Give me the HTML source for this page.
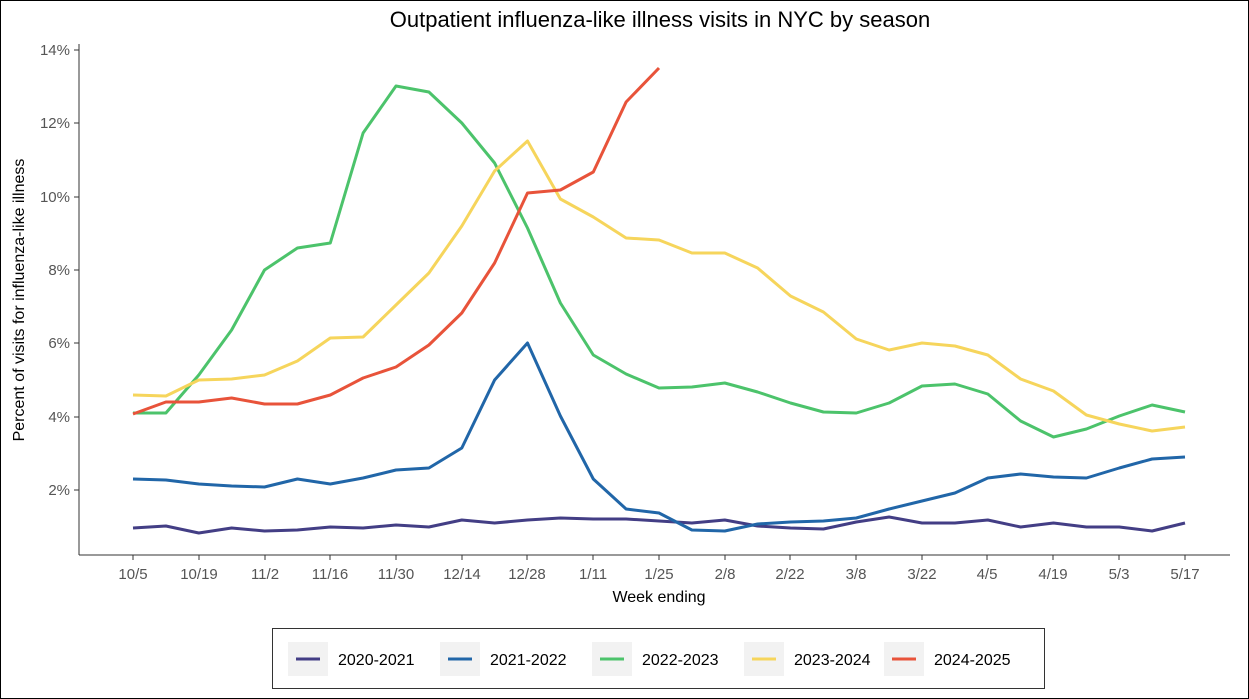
<!DOCTYPE html>
<html><head><style>
body{margin:0;background:#fff;}
svg{display:block;font-family:"Liberation Sans",sans-serif;}
</style></head><body>
<svg width="1249" height="699" viewBox="0 0 1249 699">
<rect x="0.5" y="0.5" width="1248" height="698" fill="#fff" stroke="#000"/>
<text x="660" y="27" font-size="22" text-anchor="middle" fill="#000">Outpatient influenza-like illness visits in NYC by season</text>
<line x1="79" y1="44" x2="79" y2="555" stroke="#333" stroke-width="1"/>
<line x1="79" y1="555" x2="1230" y2="555" stroke="#333" stroke-width="1"/>
<g font-size="15" fill="#555" text-anchor="end">
<text x="70" y="55">14%</text><line x1="74" y1="50" x2="79" y2="50" stroke="#333"/>
<text x="70" y="128">12%</text><line x1="74" y1="123" x2="79" y2="123" stroke="#333"/>
<text x="70" y="202">10%</text><line x1="74" y1="197" x2="79" y2="197" stroke="#333"/>
<text x="70" y="275">8%</text><line x1="74" y1="270" x2="79" y2="270" stroke="#333"/>
<text x="70" y="348">6%</text><line x1="74" y1="343" x2="79" y2="343" stroke="#333"/>
<text x="70" y="422">4%</text><line x1="74" y1="417" x2="79" y2="417" stroke="#333"/>
<text x="70" y="495">2%</text><line x1="74" y1="490" x2="79" y2="490" stroke="#333"/>
</g>
<g font-size="15" fill="#555" text-anchor="middle" stroke-width="1">
<text x="133" y="579">10/5</text><text x="199" y="579">10/19</text><text x="265" y="579">11/2</text><text x="330" y="579">11/16</text><text x="396" y="579">11/30</text><text x="462" y="579">12/14</text><text x="527" y="579">12/28</text><text x="593" y="579">1/11</text><text x="659" y="579">1/25</text><text x="725" y="579">2/8</text><text x="790" y="579">2/22</text><text x="856" y="579">3/8</text><text x="922" y="579">3/22</text><text x="987" y="579">4/5</text><text x="1053" y="579">4/19</text><text x="1119" y="579">5/3</text><text x="1185" y="579">5/17</text>
</g>
<g stroke="#333"><line x1="133" y1="555" x2="133" y2="560"/><line x1="199" y1="555" x2="199" y2="560"/><line x1="265" y1="555" x2="265" y2="560"/><line x1="330" y1="555" x2="330" y2="560"/><line x1="396" y1="555" x2="396" y2="560"/><line x1="462" y1="555" x2="462" y2="560"/><line x1="527" y1="555" x2="527" y2="560"/><line x1="593" y1="555" x2="593" y2="560"/><line x1="659" y1="555" x2="659" y2="560"/><line x1="725" y1="555" x2="725" y2="560"/><line x1="790" y1="555" x2="790" y2="560"/><line x1="856" y1="555" x2="856" y2="560"/><line x1="922" y1="555" x2="922" y2="560"/><line x1="987" y1="555" x2="987" y2="560"/><line x1="1053" y1="555" x2="1053" y2="560"/><line x1="1119" y1="555" x2="1119" y2="560"/><line x1="1185" y1="555" x2="1185" y2="560"/></g>
<text x="659" y="602" font-size="16" text-anchor="middle" fill="#000">Week ending</text>
<text transform="translate(24,300) rotate(-90)" font-size="16" text-anchor="middle" fill="#000">Percent of visits for influenza-like illness</text>
<g fill="none" stroke-width="3" stroke-linejoin="round" id="lines"></g>
<rect x="272.5" y="628.5" width="772" height="60" fill="#fff" stroke="#333"/>
<g font-size="16" fill="#000">
<rect x="288" y="642" width="40" height="34" fill="#f2f2f2"/><line x1="296" y1="659" x2="320" y2="659" stroke="#433e85" stroke-width="3"/><text x="338" y="665">2020-2021</text>
<rect x="440" y="642" width="40" height="34" fill="#f2f2f2"/><line x1="448" y1="659" x2="472" y2="659" stroke="#2166a8" stroke-width="3"/><text x="490" y="665">2021-2022</text>
<rect x="592" y="642" width="40" height="34" fill="#f2f2f2"/><line x1="600" y1="659" x2="624" y2="659" stroke="#4cc36b" stroke-width="3"/><text x="642" y="665">2022-2023</text>
<rect x="744" y="642" width="40" height="34" fill="#f2f2f2"/><line x1="752" y1="659" x2="776" y2="659" stroke="#f6d55c" stroke-width="3"/><text x="794" y="665">2023-2024</text>
<rect x="884" y="642" width="40" height="34" fill="#f2f2f2"/><line x1="892" y1="659" x2="916" y2="659" stroke="#e8533a" stroke-width="3"/><text x="934" y="665">2024-2025</text>
</g>
<script>
var sp=32.875,x0=133,g=document.getElementById('lines');
function L(ys,c){var p=ys.map(function(y,i){return (x0+i*sp).toFixed(1)+','+y}).join(' ');
var e=document.createElementNS('http://www.w3.org/2000/svg','polyline');e.setAttribute('points',p);e.setAttribute('stroke',c);g.appendChild(e);}
L([528,526,533,528,531,530,527,528,525,527,520,523,520,518,519,519,521,523,520,526,528,529,522,517,523,523,520,527,523,527,527,531,523],'#433e85');
L([479,480,484,486,487,479,484,478,470,468,448,380,343,416,479,509,513,530,531,524,522,521,518,509,501,493,478,474,477,478,468,459,457],'#2166a8');
L([413,413,375,330,270,248,243,133,86,92,123,163,228,303,355,374,388,387,383,392,403,412,413,403,386,384,394,421,437,429,416,405,412],'#4cc36b');
L([395,396,380,379,375,361,338,337,305,273,226,171,141,199,217,238,240,253,253,268,296,312,339,350,343,346,355,379,391,415,424,431,427],'#f6d55c');
L([414,402,402,398,404,404,395,378,367,345,313,263,193,190,172,102,68],'#e8533a');
</script>
</svg>
</body></html>
